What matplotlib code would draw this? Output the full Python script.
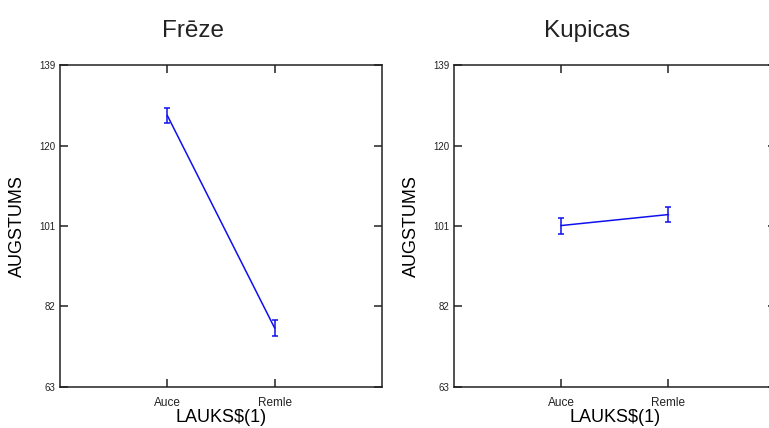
import matplotlib
matplotlib.use("Agg")
import matplotlib.pyplot as plt

plt.rcParams['font.family'] = ['Liberation Sans', 'DejaVu Sans']

panels = ["Frēze", "Kupicas"]
groups = ["Auce", "Remle"]
means = {"Frēze": [127.1, 76.9], "Kupicas": [101.1, 103.7]}
errors = {"Frēze": [1.7, 1.9], "Kupicas": [1.9, 1.8]}
y_ticks = [63, 82, 101, 120, 139]
x_pos = [1, 2]

fig = plt.figure(figsize=(7.69, 4.28), dpi=100)
fig.patch.set_facecolor('white')

lefts = [0.078, 0.590]
for left, name in zip(lefts, panels):
    ax = fig.add_axes([left, 0.096, 0.4187, 0.752])
    ax.errorbar(x_pos, means[name], yerr=errors[name], color='#1010ee',
                linewidth=1.1, elinewidth=1.1, capsize=2, capthick=1.1)
    ax.set_xlim(0, 3)
    ax.set_ylim(63, 139)
    ax.set_yticks(y_ticks)
    ax.set_yticklabels([str(t) for t in y_ticks], fontsize=7)
    ax.set_xticks(x_pos)
    ax.set_xticklabels(groups, fontsize=8.5)
    ax.tick_params(direction='in', length=6, width=1.1, color='#222222',
                   top=True, right=True, labelcolor='#222222')
    ax.tick_params(axis='y', pad=3)
    ax.tick_params(axis='x', pad=7)
    for sp in ax.spines.values():
        sp.set_linewidth(1.1)
        sp.set_color('#222222')
    ax.set_xlabel("LAUKS$(1)", fontsize=13, labelpad=0)
    ax.set_ylabel("AUGSTUMS", fontsize=13)
    ax.yaxis.set_label_coords(-0.106, 0.5)
    ax.text(0.414, 1.106, name, transform=ax.transAxes, ha='center',
            va='center', fontsize=17.5, color='#222222')

plt.savefig("out.png", dpi=100, facecolor='white')
plt.close()
